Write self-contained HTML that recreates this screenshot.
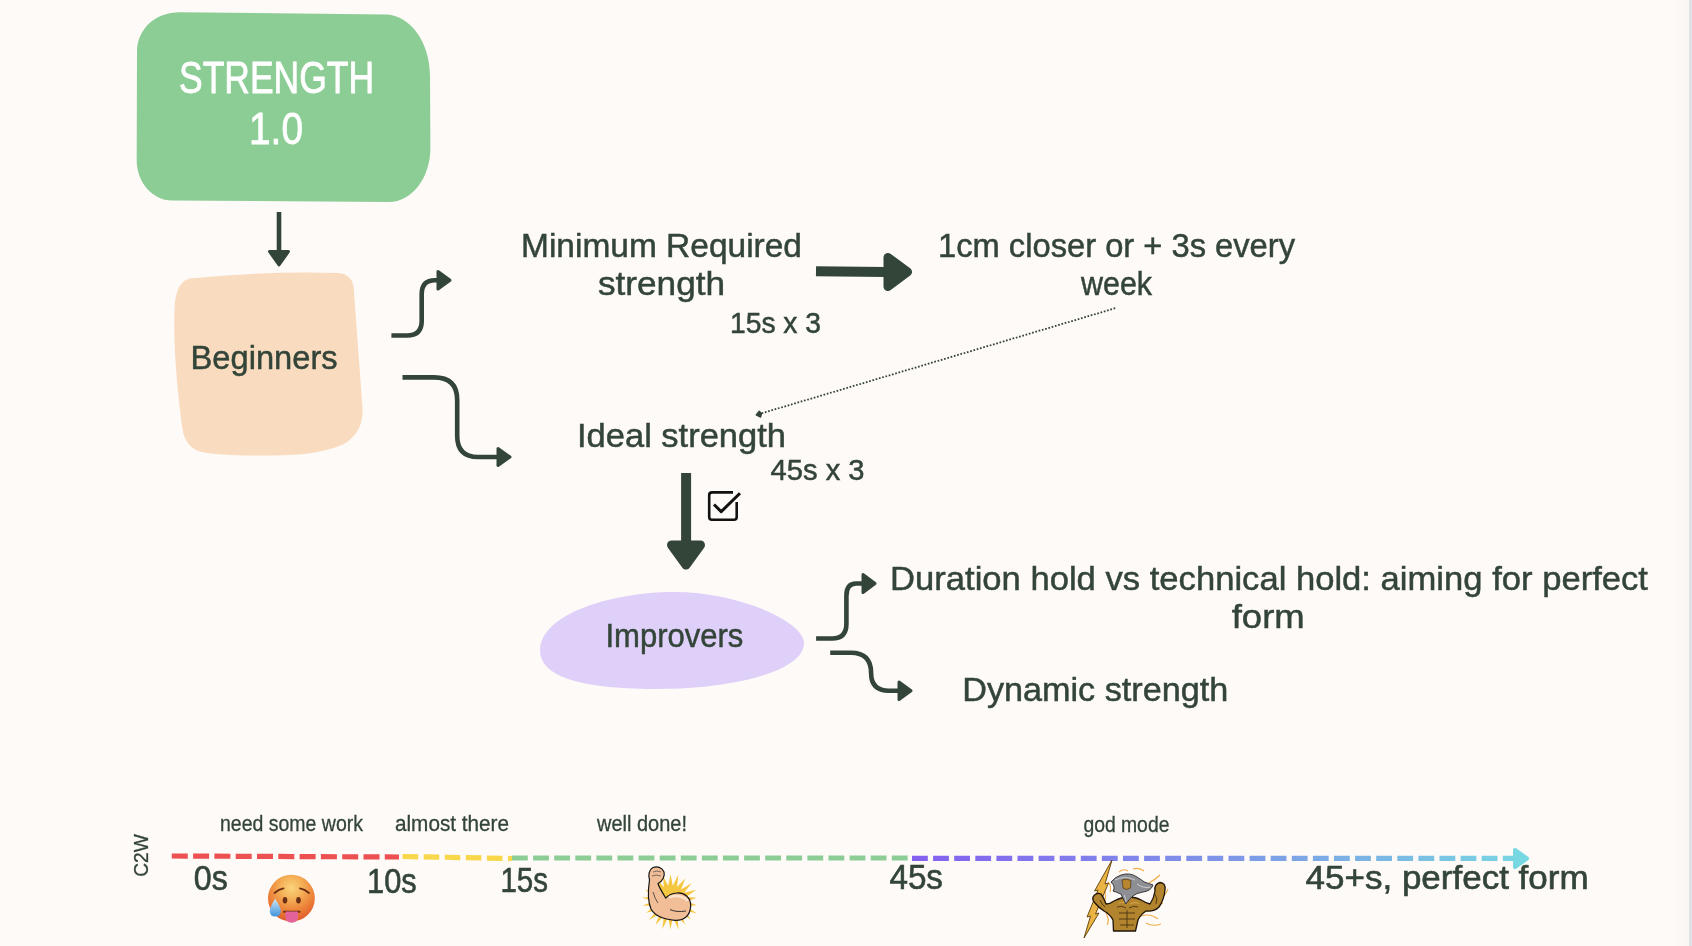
<!DOCTYPE html>
<html><head><meta charset="utf-8">
<style>
html,body{margin:0;padding:0;background:#fefaf7;overflow:hidden;}
svg{display:block;will-change:transform;}
text{font-family:"Liberation Sans",sans-serif;}
</style></head>
<body>
<svg width="1692" height="946" viewBox="0 0 1692 946">
<defs>
<linearGradient id="gp" x1="912" y1="0" x2="1530" y2="0" gradientUnits="userSpaceOnUse">
<stop offset="0" stop-color="#8560f0"/>
<stop offset="0.5" stop-color="#7e95e8"/>
<stop offset="1" stop-color="#78d8e2"/>
</linearGradient>
</defs>
<rect x="0" y="0" width="1692" height="946" fill="#fefaf7"/>
<!-- right scrollbar edge -->
<linearGradient id="sh" x1="0" y1="0" x2="1" y2="0"><stop offset="0" stop-color="#000" stop-opacity="0"/><stop offset="1" stop-color="#000" stop-opacity="0.02"/></linearGradient>
<rect x="1674" y="0" width="15" height="946" fill="url(#sh)"/>
<rect x="1689" y="0" width="3" height="946" fill="#e0e1e6"/>

<!-- green box -->
<path d="M180,12.2 L385,14.5 C409.9,14.5 430,42 430,76 L430.4,148 C430.4,177.8 411.9,202 389,202 L172,200.5 C152.5,200.5 136.7,182.4 136.7,160 L137,52 C137,29.1 155,12.2 180,12.2 Z" fill="#8ccd95"/>
<g fill="#ffffff" stroke="#ffffff" stroke-width="0.8" font-size="45">
<text x="179" y="93" textLength="195" lengthAdjust="spacingAndGlyphs">STRENGTH</text>
<text x="249" y="144" textLength="54" lengthAdjust="spacingAndGlyphs">1.0</text>
</g>

<!-- peach -->
<path d="M190,278.5 Q262,271 338,273 Q354,274 354,292 L362.5,408 Q364,432 344,444 Q318,456 268,455.5 Q214,456 198,451 Q184,445 182,426 C178,395 173,350 174.5,310 Q175,282 190,278.5 Z" fill="#f9dbc0"/>

<!-- purple ellipse -->
<path d="M540,650 C540,615 610,592 674,592 C740,592 804,622 804,643 C804,672 730,689 659,689 C590,689 540,680 540,650 Z" fill="#dfd0fa"/>

<g fill="none" stroke="#334438" stroke-width="4.6">
<!-- A0 -->
<path d="M279,212 V252"/>
<!-- A1 -->
<path d="M391.4,335.5 H407 Q421.7,335.5 421.7,321 V294 Q421.7,280.3 435,280.3 H438"/>
<!-- A2 -->
<path d="M402.5,377.4 H434 Q457.2,377.4 457.2,400 V436 Q457.2,457 478,457 H498"/>
<!-- A5 -->
<path d="M816.1,638.5 H832 Q846.4,638.5 846.4,624 V596 Q846.4,583.5 856,583.5 H863"/>
<!-- A6 -->
<path d="M830.2,652.7 H851 Q871.1,652.7 871.1,673 Q871.1,690.8 889,690.8 H898"/>
<!-- thick -->
<path d="M816,271.2 L885,272" stroke-width="10"/>
<path d="M686.1,473 V542" stroke-width="10"/>
</g>
<g fill="#334438" stroke="#334438" stroke-width="3" stroke-linejoin="round">
<path d="M269.5,251.5 L288.5,251.5 L279,265 Z"/>
<path d="M438,271.5 L450,280.3 L438,289 Z"/>
<path d="M498,448.5 L510,457 L498,465.5 Z"/>
<path d="M863,574.5 L875,583.5 L863,592.5 Z"/>
<path d="M899,682 L911,690.8 L899,699.5 Z"/>
</g>
<g fill="#334438" stroke="#334438" stroke-width="9" stroke-linejoin="round">
<path d="M888,257.5 L907.5,271.9 L888,286.5 Z"/>
<path d="M671.5,545 L700.5,545 L686,565 Z"/>
</g>
<!-- dotted -->
<path d="M1115.2,308.2 L762,413.2" stroke="#334438" stroke-width="1.8" stroke-dasharray="1.7 1.7" fill="none"/>
<path d="M756.2,414.9 L759.2,411.2 L761.6,413.4 L760.6,417.2 Z" fill="#334438" stroke="#334438" stroke-width="1.3" stroke-linejoin="round"/>

<!-- checkbox -->
<g fill="none" stroke="#111" stroke-width="2.6" stroke-linecap="butt" stroke-linejoin="round">
<path d="M733,492.4 H712 Q709.2,492.4 709.2,495.2 V517 Q709.2,519.8 712,519.8 H734 Q736.7,519.8 736.7,517 V502"/>
<path d="M714,504.5 L721.2,511.6 L740,493.2" stroke-width="3"/>
</g>

<!-- main texts -->
<g fill="#334438" stroke="#334438" stroke-width="0.5" font-size="34">
<text x="521" y="257" textLength="281" lengthAdjust="spacingAndGlyphs">Minimum Required</text>
<text x="598" y="294.5" textLength="127" lengthAdjust="spacingAndGlyphs">strength</text>
<text x="730" y="333" font-size="29" textLength="91" lengthAdjust="spacingAndGlyphs">15s x 3</text>
<text x="938" y="257" textLength="357" lengthAdjust="spacingAndGlyphs">1cm closer or + 3s every</text>
<text x="1081" y="295" textLength="71" lengthAdjust="spacingAndGlyphs">week</text>
<text x="190.6" y="369.4" textLength="147" lengthAdjust="spacingAndGlyphs">Beginners</text>
<text x="577" y="446.7" textLength="209" lengthAdjust="spacingAndGlyphs">Ideal strength</text>
<text x="770.6" y="480" font-size="30" textLength="94" lengthAdjust="spacingAndGlyphs">45s x 3</text>
<text x="605.4" y="646.8" textLength="138" lengthAdjust="spacingAndGlyphs">Improvers</text>
<text x="890" y="590" textLength="758" lengthAdjust="spacingAndGlyphs">Duration hold vs technical hold: aiming for perfect</text>
<text x="1231.7" y="628" textLength="73" lengthAdjust="spacingAndGlyphs">form</text>
<text x="962.2" y="701.3" textLength="266" lengthAdjust="spacingAndGlyphs">Dynamic strength</text>
</g>

<!-- timeline -->
<g stroke-width="5.2" fill="none">
<path d="M171.8,856 L399,857" stroke="#ec5050" stroke-dasharray="16 5.3"/>
<path d="M402.6,856.5 L512,858.5" stroke="#f8d84a" stroke-dasharray="15.5 5.6"/>
<path d="M512,858 L910,858" stroke="#8ccd95" stroke-dasharray="15.8 5.3"/>
<path d="M912,858.3 L1514,858.4" stroke="url(#gp)" stroke-dasharray="15.8 5.3"/>
</g>
<path d="M1515,850 L1527,858.5 L1515,867 Z" fill="#78d8e2" stroke="#78d8e2" stroke-width="4" stroke-linejoin="round"/>

<g fill="#334438" stroke="#334438" stroke-width="0.3" font-size="21.5">
<text x="220" y="830.7" textLength="143" lengthAdjust="spacingAndGlyphs">need some work</text>
<text x="395" y="830.5" textLength="114" lengthAdjust="spacingAndGlyphs">almost there</text>
<text x="597" y="830.5" textLength="90" lengthAdjust="spacingAndGlyphs">well done!</text>
<text x="1083.4" y="832" textLength="86" lengthAdjust="spacingAndGlyphs">god mode</text>
<text transform="translate(148.4,876.8) rotate(-90)" x="0" y="0" font-size="21" textLength="42.5" lengthAdjust="spacingAndGlyphs">C2W</text>
</g>
<g fill="#334438" stroke="#334438" stroke-width="0.6" font-size="35">
<text x="193.8" y="890.1" textLength="34" lengthAdjust="spacingAndGlyphs">0s</text>
<text x="367" y="892.8" textLength="49.7" lengthAdjust="spacingAndGlyphs">10s</text>
<text x="500.4" y="892.4" textLength="47.6" lengthAdjust="spacingAndGlyphs">15s</text>
<text x="889.4" y="889.4" textLength="53.6" lengthAdjust="spacingAndGlyphs">45s</text>
<text x="1305.6" y="888.5" font-size="32.5" textLength="283" lengthAdjust="spacingAndGlyphs">45+s, perfect form</text>
</g>

<!-- hot face emoji -->
<defs>
<radialGradient id="hf" cx="0.5" cy="0.28" r="0.78">
<stop offset="0" stop-color="#f9d57c"/>
<stop offset="0.3" stop-color="#f5b158"/>
<stop offset="0.68" stop-color="#eb7b35"/>
<stop offset="1" stop-color="#dc5028"/>
</radialGradient>
<linearGradient id="drop" x1="0" y1="0" x2="0" y2="1">
<stop offset="0" stop-color="#cfe8f7"/>
<stop offset="1" stop-color="#3f95dc"/>
</linearGradient>
</defs>
<g>
<circle cx="291.4" cy="898.2" r="23.4" fill="url(#hf)"/>
<path d="M274.5,893 Q279,889 283.5,888.3" stroke="#6b2f16" stroke-width="1.8" fill="none" stroke-linecap="round"/>
<path d="M300,888.3 Q304.5,889 309,893" stroke="#6b2f16" stroke-width="1.8" fill="none" stroke-linecap="round"/>
<ellipse cx="285" cy="900.2" rx="2.3" ry="3.2" fill="#6b2f16"/>
<ellipse cx="298.5" cy="900.2" rx="2.3" ry="3.2" fill="#6b2f16"/>
<path d="M284,911.8 H299.5" stroke="#6b2f16" stroke-width="2" stroke-linecap="round"/>
<path d="M285.5,911.5 H298 V917 Q298,922.7 291.7,922.7 Q285.5,922.7 285.5,917 Z" fill="#e4629a"/>
<path d="M275.2,898.7 Q280.8,907 280.8,911 Q280.8,916.5 275.2,916.5 Q269.8,916.5 269.8,911 Q269.8,907 275.2,898.7 Z" fill="url(#drop)"/>
</g>

<!-- flexed biceps with burst -->
<g>
<path d="M670.5,874.3 L672.8,885.7 L678.4,874.5 L677.1,886.9 L685.4,878.3 L681.0,889.4 L691.9,883.0 L684.0,892.8 L696.3,889.7 L685.9,897.0 L696.9,897.7 L686.5,901.5 L696.8,905.3 L685.9,906.0 L696.9,913.6 L684.0,910.2 L691.1,919.4 L681.0,913.6 L685.2,924.4 L677.1,916.1 L678.8,929.8 L672.8,917.3 L670.5,929.4 L668.2,917.3 L662.3,929.3 L663.9,916.1 L655.4,925.0 L660.0,913.6 L649.0,920.1 L657.0,910.2 L646.0,912.7 L655.1,906.0 L642.4,905.5 L654.5,901.5 L641.7,897.4 L655.1,897.0 L645.0,889.8 L657.0,892.8 L648.8,882.7 L660.0,889.4 L655.1,877.5 L663.9,886.9 L663.0,875.9 L668.2,885.7 Z" fill="#f5c640"/>
<path d="M649.5,880 C648,890 648,902 651,909 C655,916 664,919.5 675,920.3 C684,920.5 690,916 690.7,906 C691,897 684,892.5 677,893 C671,893.5 667.5,896 665.7,898 C662,892 659,887 658,883.5 C663,881 665,876 664,872 C662,867 657,866 653,867.5 C649,869.5 648,875 649.5,880 Z" fill="#f2be98" stroke="#151515" stroke-width="1.2" stroke-linejoin="round"/>
<path d="M670,897 Q680,894 687,900" stroke="#fbe3cc" stroke-width="2.5" fill="none" stroke-linecap="round"/>
<path d="M670,909.5 Q676,912.5 686,911" stroke="#222" stroke-width="0.9" fill="none"/>
<path d="M653,872 Q657,870 661,872 M652,876 Q656,874 661,876" stroke="#444" stroke-width="0.7" fill="none"/>
<path d="M653,892 Q655,899 658,903" stroke="#333" stroke-width="0.8" fill="none"/>
</g>

<!-- zeus -->
<g>
<path d="M1119,872 Q1124,868 1128,871 M1133,869 Q1139,867 1144,871 M1149,883 Q1156,879 1160,875 M1104,889 Q1107,896 1104,903 M1106,913 Q1110,920 1107,925 M1141,916 Q1150,913 1158,919 M1146,923 Q1153,927 1161,924 M1162,898 Q1166,894 1168,889 M1108,882 Q1112,886 1110,892 M1150,910 Q1158,906 1163,903" stroke="#f2ad4a" stroke-width="1.1" fill="none"/>
<path d="M1112,860 L1105,884 L1108.5,883 L1095.5,914 L1099,913 L1084,938 L1090.5,916 L1087,917 L1098,890 L1094.5,891 Z" fill="#e9b444" stroke="#5a3d0a" stroke-width="0.9" stroke-linejoin="round"/>
<path d="M1093,897 Q1096,892 1101,894 Q1104,898 1106,904 Q1110,904 1114,901 Q1122,897 1128,897 Q1136,897 1141,900 Q1146,903 1150,904 Q1154,898 1155,891 Q1154,884 1160,882.5 Q1166,883 1165,890 Q1164,900 1159,907 Q1154,912 1146,911 Q1141,914 1138,920 L1135.5,931 L1113.5,931 L1113,920 Q1110,914 1104,911 Q1098,907 1095,903 Q1092,900 1093,897 Z" fill="#b3842e" stroke="#1e1406" stroke-width="1.3" stroke-linejoin="round"/>
<path d="M1117,907 Q1122,905 1126,908 M1129,908 Q1134,905 1138,907 M1119,913 H1135 M1119,919 H1135 M1120,925 H1134 M1127,910 V928 M1100,900 Q1102,905 1105,907 M1155,894 Q1158,898 1156,904" stroke="#4a3310" stroke-width="0.9" fill="none"/>
<path d="M1119,903 Q1125,901 1128,904 M1130,904 Q1136,901 1139,904" stroke="#d9a84e" stroke-width="1" fill="none"/>
<path d="M1111,882 Q1115,877 1121,875 Q1130,872 1137,877 Q1144,883 1153,885 Q1151,891 1143,892 Q1136,893 1133,896 Q1129,899 1126,904 Q1123,899 1121,894 Q1116,892 1113,891 Q1116,887 1111,882 Z" fill="#8d8f95" stroke="#2a2a2c" stroke-width="0.9" stroke-linejoin="round"/>
<path d="M1115,880 Q1125,875 1135,880 M1137,884 Q1144,889 1150,887 M1124,895 Q1126,899 1126,902" stroke="#c9cacd" stroke-width="1" fill="none"/>
<path d="M1122,880 Q1126,878 1131,880.5 L1130.5,888 Q1126,891 1123,888 Z" fill="#b8862e" stroke="#3a2a0e" stroke-width="0.6"/>
</g>

</svg>
</body></html>
